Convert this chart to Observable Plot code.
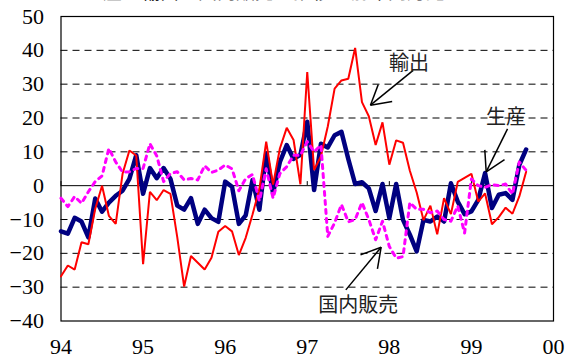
<!DOCTYPE html>
<html>
<head>
<meta charset="utf-8">
<script src="https://cdn.jsdelivr.net/npm/d3@7"></script>
<script src="https://cdn.jsdelivr.net/npm/@observablehq/plot@0.6"></script>
<style>
  html, body { margin: 0; padding: 0; background: #fff; overflow: hidden; }
  #wrap { position: relative; width: 570px; height: 360px; }
  #title { position: absolute; top: -19px; left: 84px; font: 19px/20px "Noto Sans CJK JP", sans-serif; color: #222; white-space: nowrap; }
  #chart svg g[aria-label^="x-axis"] text, #chart svg g[aria-label^="y-axis"] text {
    font-family: "Liberation Serif", "Times New Roman", serif !important;
    font-size: 22px !important;
    fill: #000;
  }
</style>
</head>
<body>
<div id="wrap">
  <div id="title">生産・輸出・国内販売の推移（前年同月比、％）</div>
  <div id="chart"></div>
</div>
<script>
// Monthly year-on-year change (%), Jan 1994 – Sep 1999
const startYear = 94;
const production = [ // 生産
  -13.5, -14.2, -9.5, -10.6, -15.3, -3.8, -7.7, -5.0, -3.0, -1.5, 2.0, 9.0,
  -2.4, 5.2, 2.2, 5.2, 2.0, -5.9, -7.1, -3.7, -11.3, -7.1, -9.6, -10.7,
  1.2, -0.3, -11.3, -8.8, 1.7, -7.1, 9.5, -2.2, 7.0, 12.0, 7.9, 9.1,
  18.9, -1.3, 12.4, 11.3, 14.9, 15.9, 7.9, 0.5, 1.0, -0.8, -7.5, 0.5,
  -9.6, 0.5, -10.1, -14.5, -19.4, -10.1, -10.6, -9.1, -10.6, 0.7, -4.7, -8.4,
  -7.6, -4.2, 3.7, -6.6, -2.7, -2.2, -4.2, 6.1, 10.7
];
const exports = [ // 輸出
  -26.8, -23.6, -24.8, -16.7, -17.3, -6.9, 0.0, -8.9, -11.3, 3.5, 10.4, 8.9,
  -23.2, -1.8, -4.3, -1.3, -2.4, -15.3, -29.8, -20.8, -22.8, -24.8, -21.3, -13.6,
  -11.9, -13.5, -20.5, -15.4, -8.5, -1.0, 13.0, 0.3, 11.0, 17.1, 13.5, 0.4,
  33.6, 4.6, 8.7, 17.5, 28.7, 31.1, 31.6, 40.7, 24.7, 20.5, 12.0, 18.7,
  6.2, 13.4, 12.7, 4.4, -2.0, -10.2, -5.9, -14.4, -3.7, -8.4, 1.1, 2.3,
  3.5, -4.7, -2.3, -11.4, -9.3, -6.5, -8.3, -3.2, 4.1
];
const domesticSales = [ // 国内販売
  -3.7, -6.2, -3.2, -5.2, -1.8, 1.2, 2.9, 11.0, 7.0, 4.0, 4.1, 5.1,
  5.1, 12.4, 8.8, 1.2, 3.6, 4.1, 1.7, 2.1, 1.7, 5.9, 3.9, 4.6,
  6.1, 5.0, -1.5, 2.1, 3.3, -4.5, 5.0, -3.7, 3.6, 5.6, 9.0, 9.0,
  13.0, 10.0, 12.0, -15.0, -11.0, -5.6, -10.7, -10.0, -5.0, -10.0, -16.0, -10.5,
  -18.0, -21.4, -21.0, -5.0, -7.0, -7.0, -8.0, -7.5, -10.0, -10.5, -6.0, -14.0,
  2.0, 0.0, -0.5, 0.3, 0.0, 0.5, -2.5, 7.0, 4.5
];

const xTicks = [94, 95, 96, 97, 98, 99, 100];
const xTickLabels = ["94", "95", "96", "97", "98", "99", "00"];
const yTicks = [-40, -30, -20, -10, 0, 10, 20, 30, 40, 50];
const dashedGrid = [-30, -20, -10, 10, 20, 30, 40];

// Callout labels and their arrows (data coordinates: year, %)
const calloutText = ["輸出", "生産", "国内販売"];
const calloutTextX = [98.24, 99.42, 97.62];
const calloutTextY = [36.2, 20.0, -35.3];
const arrowFromX = [98.29, 99.44, 97.47];
const arrowFromY = [34.1, 16.8, -30.8];
const arrowToX = [97.77, 99.18, 97.90];
const arrowToY = [23.8, 4.1, -18.2];

const W = 570, H = 360;
const mL = 60.5, mR = 17, mT = 16, mB = 39.5;
const X_DOMAIN = [94, 100], Y_DOMAIN = [-40, 50];

const series = [
  {name: "生産", values: production},
  {name: "輸出", values: exports},
  {name: "国内販売", values: domesticSales}
];
const rows = series.flatMap(s => s.values.map((v, i) => ({series: s.name, t: startYear + i / 12, v})));
const seriesRows = name => rows.filter(d => d.series === name);

const callouts = calloutText.map((label, i) => ({
  label, tx: calloutTextX[i], ty: calloutTextY[i],
  x1: arrowFromX[i], y1: arrowFromY[i], x2: arrowToX[i], y2: arrowToY[i]
}));

// Open arrowhead wings, built in pixel space then mapped back to data units
const pxPerX = (W - mL - mR) / (X_DOMAIN[1] - X_DOMAIN[0]);
const pxPerY = (H - mT - mB) / (Y_DOMAIN[1] - Y_DOMAIN[0]);
const HEAD_LEN = 22, HEAD_HALF = 30 * Math.PI / 180;
const wings = callouts.flatMap(a => {
  const dx = (a.x2 - a.x1) * pxPerX, dy = -(a.y2 - a.y1) * pxPerY;
  const back = Math.atan2(dy, dx) + Math.PI;
  return [-1, 1].map(s => {
    const t = back + s * HEAD_HALF;
    return {x1: a.x2, y1: a.y2, x2: a.x2 + Math.cos(t) * HEAD_LEN / pxPerX, y2: a.y2 - Math.sin(t) * HEAD_LEN / pxPerY};
  });
});

const chart = Plot.plot({
  width: W, height: H,
  marginLeft: mL, marginRight: mR, marginTop: mT, marginBottom: mB,
  style: {fontFamily: "'Liberation Serif', 'Times New Roman', serif", fontSize: "22px", color: "#000", background: "#fff"},
  x: {domain: X_DOMAIN, ticks: xTicks, tickFormat: d => xTickLabels[xTicks.indexOf(d)], tickSize: 0, tickPadding: 17, label: null},
  y: {domain: Y_DOMAIN, ticks: yTicks, tickSize: 0, tickPadding: 17, label: null},
  marks: [
    Plot.ruleY(dashedGrid, {stroke: "#000", strokeWidth: 1, strokeDasharray: "7,5"}),
    Plot.ruleY([0], {stroke: "#000", strokeWidth: 1}),
    Plot.ruleX(xTicks, {y1: 0, y2: 1.2, stroke: "#000", strokeWidth: 1}),
    Plot.frame({stroke: "#000", strokeWidth: 1.2}),
    Plot.line(seriesRows("生産"), {x: "t", y: "v", stroke: "#000080", strokeWidth: 4.5, strokeLinejoin: "round"}),
    Plot.line(seriesRows("輸出"), {x: "t", y: "v", stroke: "#ff0000", strokeWidth: 2, strokeLinejoin: "miter"}),
    Plot.line(seriesRows("国内販売"), {x: "t", y: "v", stroke: "#ff00ff", strokeWidth: 3, strokeDasharray: "4,5"}),
    Plot.link(callouts, {x1: "x1", y1: "y1", x2: "x2", y2: "y2", stroke: "#000", strokeWidth: 1.5}),
    Plot.link(wings, {x1: "x1", y1: "y1", x2: "x2", y2: "y2", stroke: "#000", strokeWidth: 1.5}),
    Plot.text(callouts, {x: "tx", y: "ty", text: "label", fill: "#222", fontSize: 20, fontFamily: "'Noto Sans CJK JP', sans-serif"})
  ]
});
document.getElementById("chart").appendChild(chart);
</script>
</body>
</html>
